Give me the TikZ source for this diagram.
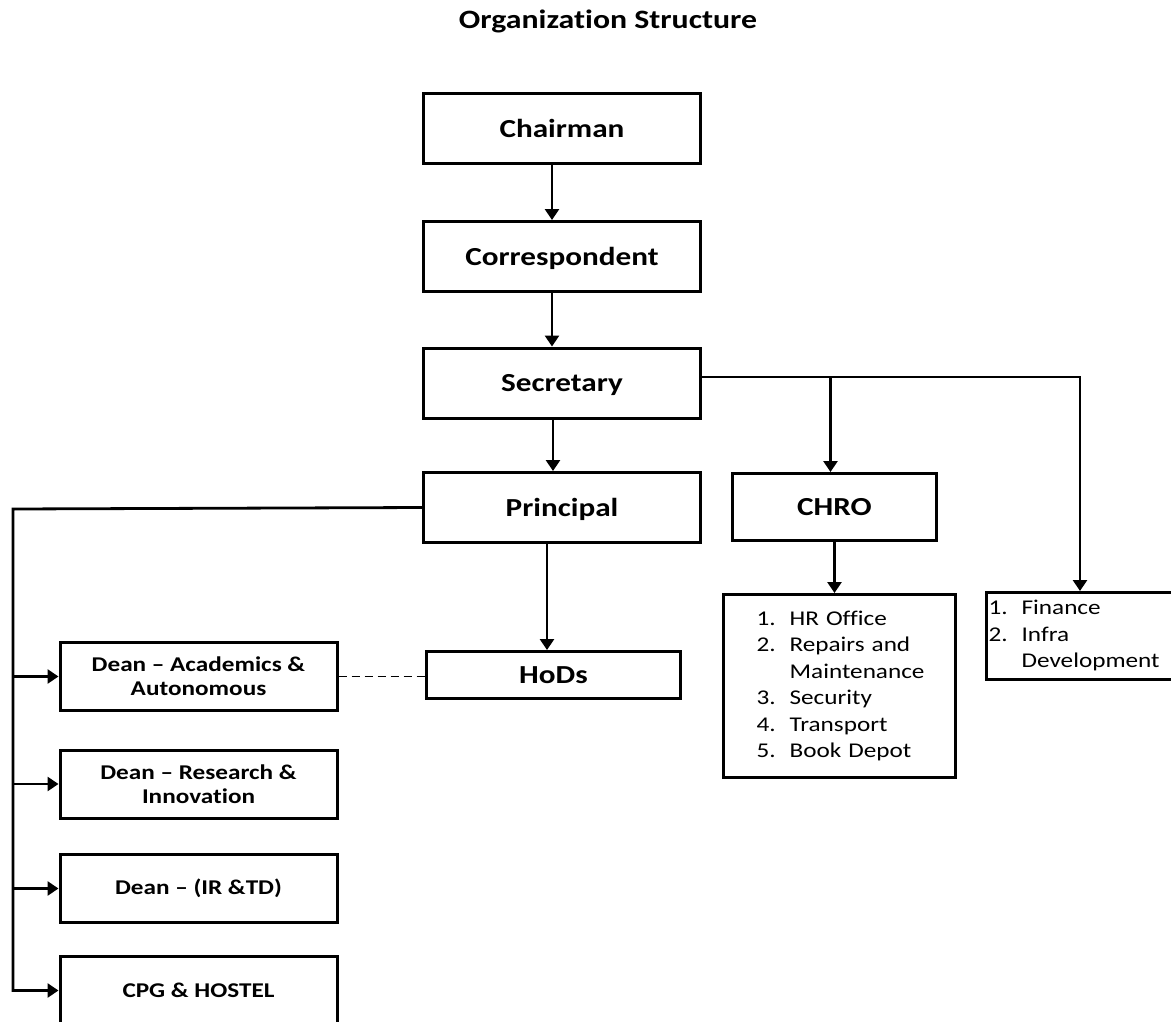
\documentclass[tikz,border=0pt]{standalone}
\usepackage{fontspec}
\setmainfont[FakeStretch=1.2, Ligatures={TeX,NoCommon}]{Carlito}
\usetikzlibrary{arrows.meta}

\tikzset{
    box/.style={draw, line width=3pt, inner sep=0pt, minimum width=277pt, minimum height=70pt,
        font=\bfseries\fontsize{26}{30}\selectfont, text height=17pt, text depth=0pt},
    deanbox/.style={draw, line width=3pt, inner sep=0pt, minimum width=277pt, minimum height=68pt,
        align=center, font=\bfseries\fontsize{21}{24}\selectfont},
    listbox/.style={draw, line width=3pt, inner ysep=0pt, align=left,
        font=\fontsize{21}{26.5}\selectfont},
    linkarrow/.style={line width=2.8pt, -{Triangle[length=11pt,width=14pt]}},
}

\begin{document}

\begin{tikzpicture}[x=1pt, y=-1pt]

\clip (0,0) rectangle (1171,1021);

\node (title) [anchor=base, font=\bfseries\fontsize{26.5}{30}\selectfont] at (608,28) {Organization Structure};

\node (chair) [box] at (562,128.5) {Chairman};
\node (corr) [box] at (562,256.5) {Correspondent};
\node (sec) [box] at (562,383) {Secretary};
\node (princ) [box] at (562,507.5) {Principal};
\node (chro) [box, minimum width=204pt, minimum height=67pt] at (834.5,507) {CHRO};
\node (hods) [box, minimum width=254pt, minimum height=47pt] at (553.5,675) {HoDs};

\node (hrlist) [listbox, inner xsep=33pt, text width=166pt, minimum height=183pt] at (839.5,686) {%
    \begin{tabular}{@{}l@{\hspace{14pt}}l@{}}
    1. & HR Office\\
    2. & Repairs and\\
       & Maintenance\\
    3. & Security\\
    4. & Transport\\
    5. & Book Depot
    \end{tabular}};
\node (fin) [listbox, inner xsep=2pt, text width=183pt, minimum height=87pt] at (1080,636) {%
    \begin{tabular}{@{}l@{\hspace{14pt}}l@{}}
    1. & Finance\\
    2. & Infra\\
       & Development
    \end{tabular}};

\foreach \deanname/\deany/\deantext in {dacad/676.5/{Dean -- Academics \&\\Autonomous},
        dres/784/{Dean -- Research \&\\Innovation}, dir/888.5/{Dean -- (IR \&TD)},
        cpg/990.5/{CPG \& HOSTEL}}
    \node (\deanname) [deanbox] at (198.5,\deany) {\deantext};

\draw[linkarrow] ([xshift=-10pt]chair.south) -- ([xshift=-10pt]corr.north);
\draw[linkarrow] ([xshift=-10pt]corr.south) -- ([xshift=-10pt]sec.north);
\draw[linkarrow] ([xshift=-9pt]sec.south) -- ([xshift=-9pt]princ.north);
\draw[linkarrow] ([xshift=-15pt]princ.south) -- ([xshift=-15pt]princ.south |- hods.north);

\coordinate (secout) at ([yshift=6pt]sec.east);
\draw[linkarrow] (secout) -| (fin.north);
\draw[linkarrow] ([xshift=-4pt]secout -| chro.north) -- ([xshift=-4pt]chro.north);
\draw[linkarrow] (chro.south) -- (chro.south |- hrlist.north);

\coordinate (bustop) at (13,509);
\draw[linkarrow] (princ.west) -- (bustop) |- (cpg.west);
\foreach \deanname in {dacad, dres, dir}
    \draw[linkarrow] (bustop |- \deanname.west) -- (\deanname.west);

\draw[line width=1.5pt, dash pattern=on 8pt off 5pt] (dacad.east) -- (dacad.east -| hods.west);

\end{tikzpicture}

\end{document}
